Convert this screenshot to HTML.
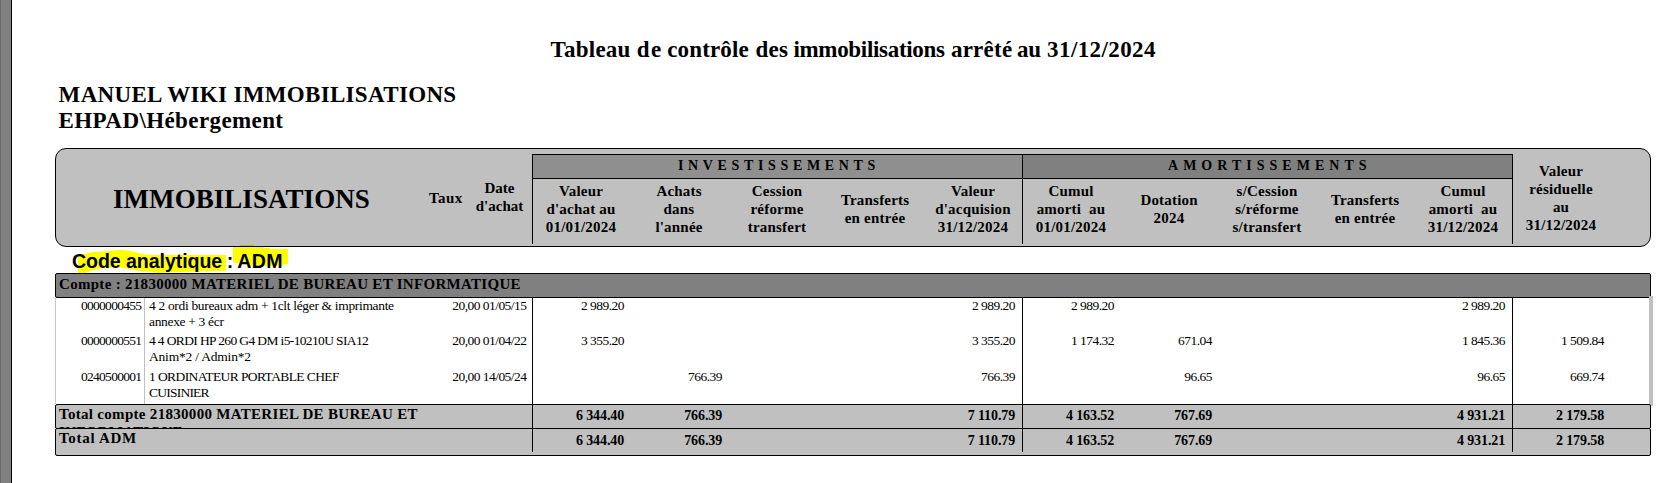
<!DOCTYPE html>
<html><head><meta charset="utf-8">
<style>
html,body{margin:0;padding:0;background:#fff;width:1662px;height:483px;overflow:hidden;position:relative}
.t{position:absolute;white-space:pre;line-height:1;color:#000;font-family:"Liberation Serif",serif}
.b{font-weight:bold}
.c{text-align:center}
.r{text-align:right}
.box{position:absolute;box-sizing:border-box;border:1px solid #000}
.vl{position:absolute;width:1px;background:#000}
.hd{font-weight:bold;text-align:center;font-size:15px;line-height:18px;width:98px;letter-spacing:0.2px;text-indent:0.2px}
.d{font-size:13.5px;letter-spacing:-0.33px}
.n{font-size:13.5px;letter-spacing:-0.55px;text-align:right}
.tn{font-size:14px;font-weight:bold;letter-spacing:-0.1px;text-align:right}
</style></head><body>

<div style="position:absolute;left:0;top:0;width:11px;height:483px;background:#808080"></div>
<div style="position:absolute;left:0;top:0;width:1px;height:483px;background:#686868"></div>
<div style="position:absolute;left:11px;top:0;width:1px;height:483px;background:#000"></div>
<div class="t b" style="left:550.6px;top:38px;font-size:23px;letter-spacing:0.23px">Tableau</div>
<div class="t b" style="left:636.8px;top:38px;font-size:23px;letter-spacing:1.3px">de</div>
<div class="t b" style="left:667.2px;top:38px;font-size:23px;letter-spacing:0.16px">contrôle</div>
<div class="t b" style="left:755.5px;top:38px;font-size:23px;letter-spacing:0.3px">des</div>
<div class="t b" style="left:793.4px;top:38px;font-size:23px;letter-spacing:-0.31px">immobilisations</div>
<div class="t b" style="left:950.9px;top:38px;font-size:23px;letter-spacing:0.24px">arrêté</div>
<div class="t b" style="left:1017px;top:38px;font-size:23px;letter-spacing:-0.2px">au</div>
<div class="t b" style="left:1047.1px;top:38px;font-size:23px;letter-spacing:0.4px">31/12/2024</div>
<div class="t b" style="left:58.6px;top:83px;font-size:23px;letter-spacing:0.33px">MANUEL WIKI IMMOBILISATIONS</div>
<div class="t b" style="left:58.6px;top:109px;font-size:23px;letter-spacing:0.4px">EHPAD\Hébergement</div>
<div class="box" style="left:55px;top:148px;width:1596px;height:99px;background:#c0c0c0;border-radius:11px"></div>
<div style="position:absolute;left:532px;top:154px;width:981px;height:25px;box-sizing:border-box;border:1px solid #000;background:#8f8f8f"></div>
<div style="position:absolute;left:1023px;top:155px;width:489px;height:23px;background:#808080"></div>
<div class="vl" style="left:532px;top:154px;height:90px"></div>
<div class="vl" style="left:1022px;top:154px;height:90px"></div>
<div class="vl" style="left:1512px;top:154px;height:90px"></div>
<div class="t b" style="left:113px;top:186px;font-size:27px;letter-spacing:0.05px">IMMOBILISATIONS</div>
<div class="t b" style="left:429px;top:191px;font-size:15px;letter-spacing:0.4px">Taux</div>
<div class="t hd" style="left:459.5px;top:179px;width:80px;letter-spacing:0;text-indent:0">Date
d'achat</div>
<div class="t b" style="left:678px;top:159px;font-size:14px;letter-spacing:4.64px">INVESTISSEMENTS</div>
<div class="t b" style="left:1168px;top:159px;font-size:14px;letter-spacing:5.02px">AMORTISSEMENTS</div>
<div class="t hd" style="left:532px;top:182px">Valeur
d'achat au
01/01/2024</div>
<div class="t hd" style="left:630px;top:182px">Achats
dans
l'année</div>
<div class="t hd" style="left:728px;top:182px">Cession
réforme
transfert</div>
<div class="t hd" style="left:826px;top:191px">Transferts
en entrée</div>
<div class="t hd" style="left:924px;top:182px">Valeur
d'acquision
31/12/2024</div>
<div class="t hd" style="left:1022px;top:182px">Cumul
amorti  au
01/01/2024</div>
<div class="t hd" style="left:1120px;top:191px">Dotation
2024</div>
<div class="t hd" style="left:1218px;top:182px">s/Cession
s/réforme
s/transfert</div>
<div class="t hd" style="left:1316px;top:191px">Transferts
en entrée</div>
<div class="t hd" style="left:1414px;top:182px">Cumul
amorti  au
31/12/2024</div>
<div class="t hd" style="left:1512px;top:162px">Valeur
résiduelle
au
31/12/2024</div>
<svg style="position:absolute;left:0;top:0" width="1662" height="483">
<polygon fill="#ffff00" points="78,273 78,256 84,254 87,253 93,252 110,251 119,250 128,250.5 137,252.5 143.5,254.3 153,255 226,255 226,271 214,271 185,272 155,273 153,272 140,271 133.6,270 127,268.5 120,267.5 104,268 97,269.2 94,270 89,271.5 86,273"/>
<polygon fill="#ffff00" points="233,247 264,247 264,248 270,248 270,249 288,249 288,264.3 283,264.3 283,266 248,266 248,263 234.5,263 234.5,262 233,262"/>
<rect x="240" y="245" width="14" height="1" fill="#b8b800"/>
</svg>
<div class="t" style="left:72px;top:252px;font-size:19.6px;font-family:'Liberation Sans',sans-serif;font-weight:bold;letter-spacing:-0.08px">Code analytique<span style="letter-spacing:-0.8px"> : </span><span style="letter-spacing:0.4px">ADM</span></div>
<div class="box" style="left:55px;top:273px;width:1596px;height:25px;background:#808080;border-radius:2px"></div>
<div class="t b" style="left:59px;top:277px;font-size:15px;letter-spacing:0.3px">Compte : 21830000 MATERIEL DE BUREAU ET INFORMATIQUE</div>
<div style="position:absolute;left:55px;top:298px;width:1px;height:106px;background:#c8c8c8"></div>
<div style="position:absolute;left:144px;top:298px;width:1px;height:106px;background:#c0c0c0"></div>
<div class="vl" style="left:532px;top:298px;height:106px"></div>
<div class="vl" style="left:1022px;top:298px;height:106px"></div>
<div class="vl" style="left:1512px;top:298px;height:106px"></div>
<div style="position:absolute;left:1649px;top:296px;width:4px;height:110px;background:#c0c0c0"></div>
<div class="t n" style="left:41px;top:299px;width:100.4px;letter-spacing:-0.7px">0000000455</div>
<div class="t d" style="left:149px;top:298.0px;line-height:15.7px;letter-spacing:-0.33px">4 2 ordi bureaux adm + 1clt léger &amp; imprimante</div>
<div class="t d" style="left:149px;top:313.7px;line-height:15.7px;letter-spacing:-0.33px">annexe + 3 écr</div>
<div class="t n" style="left:400px;top:299px;width:126.4px">20,00 01/05/15</div>
<div class="t n" style="left:524px;top:299px;width:99.9px">2 989.20</div>
<div class="t n" style="left:915px;top:299px;width:99.9px">2 989.20</div>
<div class="t n" style="left:1014px;top:299px;width:99.9px">2 989.20</div>
<div class="t n" style="left:1405px;top:299px;width:99.9px">2 989.20</div>
<div class="t n" style="left:41px;top:334px;width:100.4px;letter-spacing:-0.7px">0000000551</div>
<div class="t d" style="left:149px;top:333.0px;line-height:15.7px;letter-spacing:-0.63px">4 4 ORDI HP 260 G4 DM i5-10210U SIA12</div>
<div class="t d" style="left:149px;top:348.7px;line-height:15.7px;letter-spacing:-0.2px">Anim*2 / Admin*2</div>
<div class="t n" style="left:400px;top:334px;width:126.4px">20,00 01/04/22</div>
<div class="t n" style="left:524px;top:334px;width:99.9px">3 355.20</div>
<div class="t n" style="left:915px;top:334px;width:99.9px">3 355.20</div>
<div class="t n" style="left:1014px;top:334px;width:99.9px">1 174.32</div>
<div class="t n" style="left:1112px;top:334px;width:99.9px">671.04</div>
<div class="t n" style="left:1405px;top:334px;width:99.9px">1 845.36</div>
<div class="t n" style="left:1504px;top:334px;width:99.9px">1 509.84</div>
<div class="t n" style="left:41px;top:370px;width:100.4px;letter-spacing:-0.7px">0240500001</div>
<div class="t d" style="left:149px;top:369.0px;line-height:15.7px;letter-spacing:-0.6px">1 ORDINATEUR PORTABLE CHEF</div>
<div class="t d" style="left:149px;top:384.7px;line-height:15.7px;letter-spacing:-0.77px">CUISINIER</div>
<div class="t n" style="left:400px;top:370px;width:126.4px">20,00 14/05/24</div>
<div class="t n" style="left:622px;top:370px;width:99.9px">766.39</div>
<div class="t n" style="left:915px;top:370px;width:99.9px">766.39</div>
<div class="t n" style="left:1112px;top:370px;width:99.9px">96.65</div>
<div class="t n" style="left:1405px;top:370px;width:99.9px">96.65</div>
<div class="t n" style="left:1504px;top:370px;width:99.9px">669.74</div>
<div class="box" style="left:55px;top:404px;width:1596px;height:25px;background:#c0c0c0;border-radius:2px"></div>
<div class="box" style="left:55px;top:428px;width:1596px;height:28px;background:#c0c0c0;border-radius:2px"></div>
<div class="vl" style="left:532px;top:404px;height:48px"></div>
<div class="vl" style="left:1022px;top:404px;height:48px"></div>
<div class="vl" style="left:1512px;top:404px;height:48px"></div>
<div style="position:absolute;left:56px;top:405px;width:400px;height:23px;overflow:hidden">
<div class="t b" style="left:3px;top:0px;font-size:15px;line-height:18px;width:380px;white-space:normal;letter-spacing:0.3px">Total compte 21830000 MATERIEL DE BUREAU ET INFORMATIQUE</div>
</div>
<div class="t b" style="left:59px;top:431px;font-size:15px;letter-spacing:0.7px">Total ADM</div>
<div class="t tn" style="left:524px;top:409px;width:100.1px">6 344.40</div>
<div class="t tn" style="left:622px;top:409px;width:100.1px">766.39</div>
<div class="t tn" style="left:915px;top:409px;width:100.1px">7 110.79</div>
<div class="t tn" style="left:1014px;top:409px;width:100.1px">4 163.52</div>
<div class="t tn" style="left:1112px;top:409px;width:100.1px">767.69</div>
<div class="t tn" style="left:1405px;top:409px;width:100.1px">4 931.21</div>
<div class="t tn" style="left:1504px;top:409px;width:100.1px">2 179.58</div>
<div class="t tn" style="left:524px;top:434px;width:100.1px">6 344.40</div>
<div class="t tn" style="left:622px;top:434px;width:100.1px">766.39</div>
<div class="t tn" style="left:915px;top:434px;width:100.1px">7 110.79</div>
<div class="t tn" style="left:1014px;top:434px;width:100.1px">4 163.52</div>
<div class="t tn" style="left:1112px;top:434px;width:100.1px">767.69</div>
<div class="t tn" style="left:1405px;top:434px;width:100.1px">4 931.21</div>
<div class="t tn" style="left:1504px;top:434px;width:100.1px">2 179.58</div>
</body></html>
